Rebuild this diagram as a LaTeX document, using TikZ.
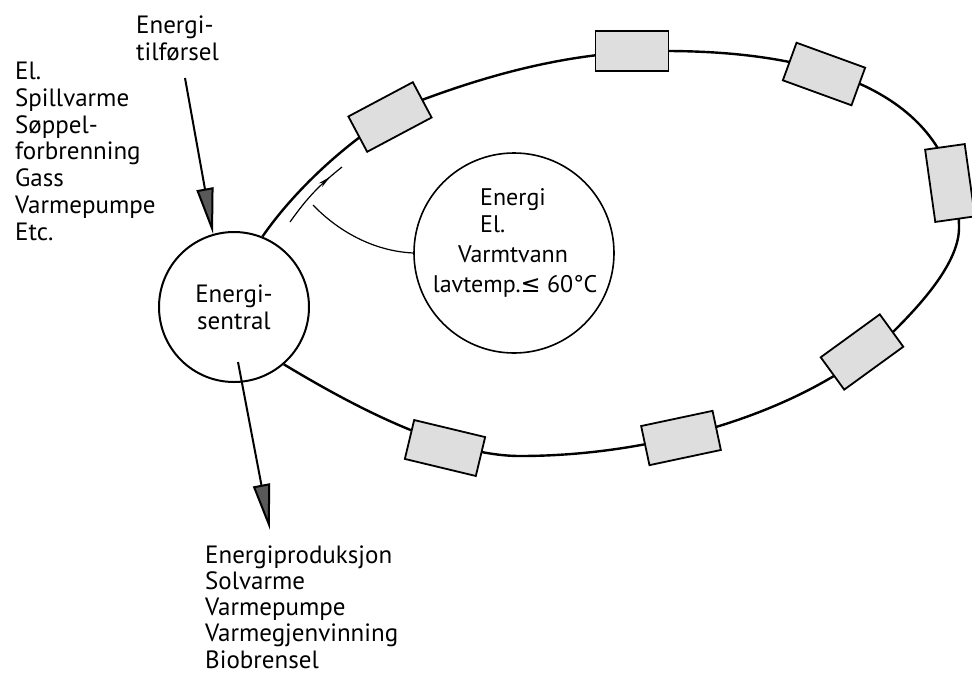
\documentclass[tikz,border=0pt]{standalone}
\usepackage{fontspec}
\setmainfont{PT Sans}
\newfontfamily\symfont{DejaVu Sans}
\usetikzlibrary{arrows.meta,decorations.markings}
\begin{document}
\begin{tikzpicture}[x=1pt,y=-1pt,
  txt/.style={anchor=base west, inner sep=0pt, align=left, font=\fontsize{25}{26.7}\selectfont},
  ctxt/.style={anchor=base, inner sep=0pt, align=center, font=\fontsize{24}{27}\selectfont},
  circ/.style={circle, draw, line width=2pt, fill=white, inner sep=0pt},
  ubox/.style={draw, line width=1.8pt, fill=gray!26, minimum width=73pt, minimum height=40pt, inner sep=0pt},
  loopline/.style={line width=2.4pt},
  bigarrow/.style={line width=2pt, -{Triangle[length=46pt,width=17pt,fill=black!65]}},
  thinline/.style={line width=1.2pt}
]
\useasboundingbox (0,0) rectangle (972,678);

% circles
\node[circ, minimum size=150pt, font=\fontsize{25}{27}\selectfont, align=center] (es) at (234,307) {Energi-\\sentral};
\node[circ, minimum size=200pt, line width=1.6pt] (ic) at (514,253) {};

% distribution loop
\draw[loopline] (es.68) .. controls (305,175) and (380,114) .. (430,97)
  .. controls (515,66) and (590,51) .. (665,51)
  .. controls (860,51) and (959,115) .. (959,228)
  .. controls (959,265) and (915,310) .. (893,332)
  .. controls (810,410) and (660,456) .. (520,456)
  .. controls (440,456) and (335,395) .. (es.-49);

% consumer boxes
\node[ubox, rotate=28] (b1) at (390,117) {};
\node[ubox] (b2) at (632,51) {};
\node[ubox, rotate=-20] (b3) at (824,74) {};
\node[ubox, rotate=-82] (b4) at (950,183) {};
\node[ubox, rotate=36] (b5) at (862,352) {};
\node[ubox, rotate=12] (b6) at (681,438) {};
\node[ubox, rotate=-13.5] (b7) at (445,448) {};

% flow arrow along the loop
\coordinate (f1) at (290,222);
\coordinate (f2) at (342,167);
\draw[thinline, postaction={decorate}, decoration={markings, mark=at position 0.8 with {\arrow{Stealth[length=13pt,width=5pt]}}}] (f1) to[bend left=8] (f2);

% callout from inner circle
\coordinate (cs) at (313,205);
\draw[thinline] (ic.west) .. controls (372,251) and (337,230) .. (cs);

% inner circle text
\node[txt, font=\fontsize{24}{27}\selectfont] (ie1) at (480,205) {Energi};
\node[txt, font=\fontsize{24}{27}\selectfont] (ie2) at (480,232) {El.};
\node[ctxt] (ie3) at (513,262) {Varmtvann};
\node[ctxt] (ie4) at (515,292) {lavtemp.{\symfont ≤} 60°C};

% supply arrow
\coordinate (t1) at (185,78);
\draw[bigarrow] (t1) -- (es.106);
\node[txt, font=\fontsize{25}{27}\selectfont] (sup) at (136,60) {Energi-\\tilførsel};
\node[txt] (src) at (15,240) {El.\\Spillvarme\\Søppel-\\forbrenning\\Gass\\Varmepumpe\\Etc.};

% production arrow
\coordinate (p1) at (238,362);
\coordinate (p2) at (270,530);
\draw[bigarrow] (p1) -- (p2);
\node[txt, font=\fontsize{25}{26.25}\selectfont] (prod) at (205,668) {Energiproduksjon\\Solvarme\\Varmepumpe\\Varmegjenvinning\\Biobrensel};
\end{tikzpicture}
\end{document}
